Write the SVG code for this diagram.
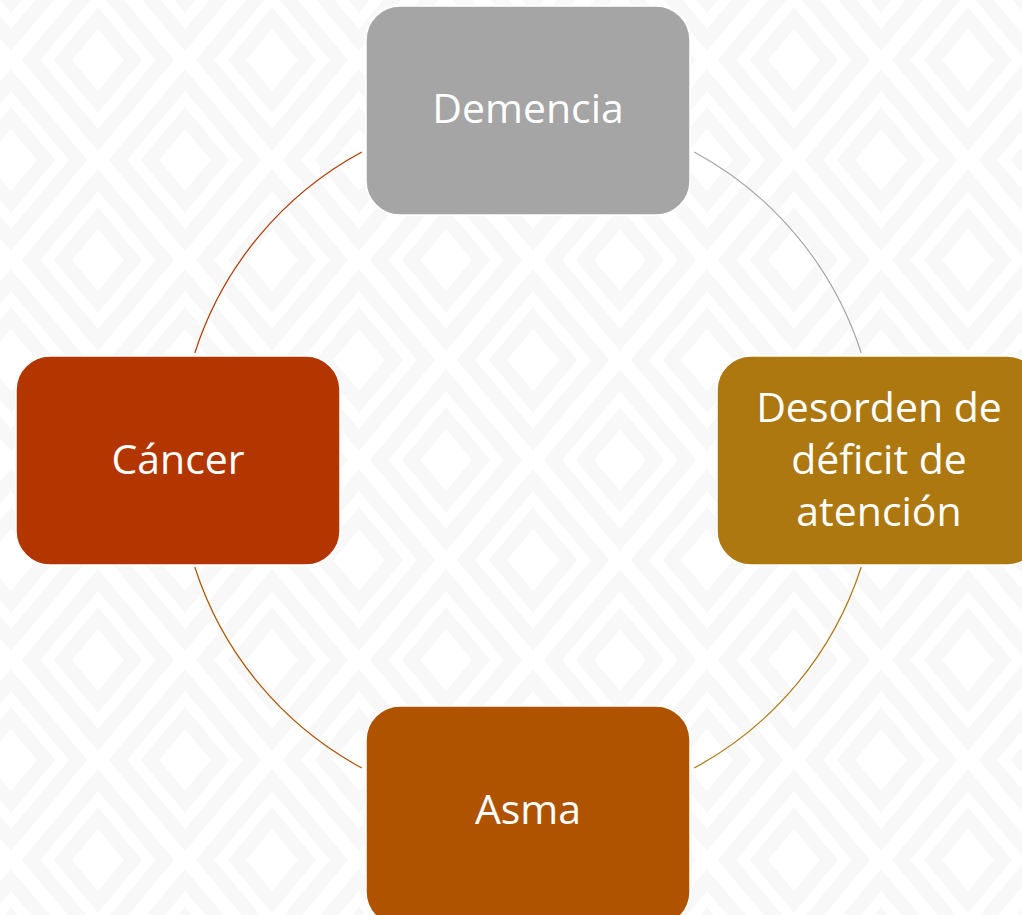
<svg xmlns="http://www.w3.org/2000/svg" width="1022" height="915" viewBox="0 0 1022 915">
  <defs>
    <pattern id="bg" width="174" height="200" patternUnits="userSpaceOnUse" patternTransform="translate(98,60)">
      <g fill="none" stroke="#F8F8F8" stroke-width="14">
        <polygon points="87,20 154,100 87,180 20,100"/>
        <polygon points="87,58 122,100 87,142 52,100"/>
        <polygon points="0,-80 67,0 0,80 -67,0"/>
        <polygon points="174,-80 241,0 174,80 107,0"/>
        <polygon points="0,120 67,200 0,280 -67,200"/>
        <polygon points="174,120 241,200 174,280 107,200"/>
        <polygon points="0,-42 35,0 0,42 -35,0"/>
        <polygon points="174,-42 209,0 174,42 139,0"/>
        <polygon points="0,158 35,200 0,242 -35,200"/>
        <polygon points="174,158 209,200 174,242 139,200"/>
      </g>
    </pattern>
    <style>
      .box { stroke: #FFFFFF; stroke-width: 1.5; }
      .lbl { font-family: "Open Sans", "Noto Sans", "Liberation Sans", sans-serif; font-size: 41px; fill: #FFFFFF; text-anchor: middle; }
      .arc { fill: none; stroke-width: 1.2; }
    </style>
  </defs>
  <rect x="0" y="0" width="1022" height="915" fill="#FFFFFF"/>
  <rect x="0" y="0" width="1022" height="915" fill="url(#bg)"/>

  <g id="connectors">
    <path class="arc" stroke="#A5A5A5" d="M 694.2 152 A 350 350 0 0 1 861.2 353"/>
    <path class="arc" stroke="#AD7810" d="M 861.2 567 A 350 350 0 0 1 694.2 768"/>
    <path class="arc" stroke="#B05300" d="M 361.8 768 A 350 350 0 0 1 194.8 567"/>
    <path class="arc" stroke="#B33600" d="M 194.8 353 A 350 350 0 0 1 361.8 152"/>
  </g>

  <g id="demencia">
    <rect class="box" x="366" y="6" width="324" height="209" rx="34" fill="#A5A5A5"/>
    <text class="lbl" x="528" y="123">Demencia</text>
  </g>
  <g id="desorden">
    <rect class="box" x="717" y="356" width="324" height="209" rx="34" fill="#AD7810"/>
    <text class="lbl" x="879" y="422">Desorden de</text>
    <text class="lbl" x="879" y="474">déficit de</text>
    <text class="lbl" x="879" y="526">atención</text>
  </g>
  <g id="asma">
    <rect class="box" x="366" y="706" width="324" height="220" rx="34" fill="#B05300"/>
    <text class="lbl" x="528" y="824">Asma</text>
  </g>
  <g id="cancer">
    <rect class="box" x="16" y="356" width="324" height="209" rx="34" fill="#B33600"/>
    <text class="lbl" x="178" y="474">Cáncer</text>
  </g>
</svg>
